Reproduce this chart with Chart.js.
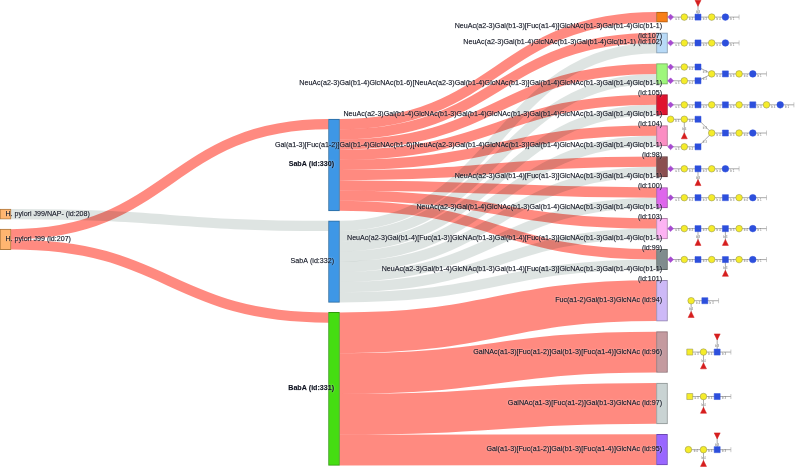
<!DOCTYPE html>
<html>
<head>
<meta charset="utf-8">
<style>html,body{margin:0;padding:0;background:#fff}canvas{display:block}</style>
<script src="https://cdn.jsdelivr.net/npm/chart.js@4/dist/chart.umd.min.js"></script>
</head>
<body>
<canvas id="c" width="796" height="467"></canvas>
<script>
// ---- data ----
const nodeNames = [
  "H. pylori J99/NAP- (id:208)",
  "H. pylori J99 (id:207)",
  "SabA (id:330)",
  "SabA (id:332)",
  "BabA (id:331)",
  "NeuAc(a2-3)Gal(b1-3)[Fuc(a1-4)]GlcNAc(b1-3)Gal(b1-4)Glc(b1-1)\n(id:107)",
  "NeuAc(a2-3)Gal(b1-4)GlcNAc(b1-3)Gal(b1-4)Glc(b1-1) (id:102)",
  "NeuAc(a2-3)Gal(b1-4)GlcNAc(b1-6)[NeuAc(a2-3)Gal(b1-4)GlcNAc(b1-3)]Gal(b1-4)GlcNAc(b1-3)Gal(b1-4)Glc(b1-1)\n(id:105)",
  "NeuAc(a2-3)Gal(b1-4)GlcNAc(b1-3)Gal(b1-4)GlcNAc(b1-3)Gal(b1-4)GlcNAc(b1-3)Gal(b1-4)Glc(b1-1)\n(id:104)",
  "Gal(a1-3)[Fuc(a1-2)]Gal(b1-4)GlcNAc(b1-6)[NeuAc(a2-3)Gal(b1-4)GlcNAc(b1-3)]Gal(b1-4)GlcNAc(b1-3)Gal(b1-4)Glc(b1-1)\n(id:98)",
  "NeuAc(a2-3)Gal(b1-4)[Fuc(a1-3)]GlcNAc(b1-3)Gal(b1-4)Glc(b1-1)\n(id:100)",
  "NeuAc(a2-3)Gal(b1-4)GlcNAc(b1-3)Gal(b1-4)GlcNAc(b1-3)Gal(b1-4)Glc(b1-1)\n(id:103)",
  "NeuAc(a2-3)Gal(b1-4)[Fuc(a1-3)]GlcNAc(b1-3)Gal(b1-4)[Fuc(a1-3)]GlcNAc(b1-3)Gal(b1-4)Glc(b1-1)\n(id:99)",
  "NeuAc(a2-3)Gal(b1-4)GlcNAc(b1-3)Gal(b1-4)[Fuc(a1-3)]GlcNAc(b1-3)Gal(b1-4)Glc(b1-1)\n(id:101)",
  "Fuc(a1-2)Gal(b1-3)GlcNAc (id:94)",
  "GalNAc(a1-3)[Fuc(a1-2)]Gal(b1-3)[Fuc(a1-4)]GlcNAc (id:96)",
  "GalNAc(a1-3)[Fuc(a1-2)]Gal(b1-3)GlcNAc (id:97)",
  "Gal(a1-3)[Fuc(a1-2)]Gal(b1-3)[Fuc(a1-4)]GlcNAc (id:95)"
];
const nodeColumns = [0,0,1,1,1,2,2,2,2,2,2,2,2,2,2,2,2,2];
const boldNodes = [2,4];
const nodeColors = ["#FFB570","#FFB570","#3E97E6","#3E97E6","#45DD12","#F77F17","#B8DAF7","#9EF77B","#E0132F","#FB8EC3","#8B4F50","#DE66EC","#FDB3F3","#7F8C8D","#CDB9F7","#C49A9F","#C9D3D3","#9966FF"];
const nodeBorders = ["#B07A40","#B07A40","#2A6A9F","#2A6A9F","#2F9A0C","#AD5910","#8098AD","#6EAD56","#9C0D20","#B06389","#613738","#9B47A5","#B17DAA","#59625F","#8F81AD","#89696F","#8D9494","#6B47B3"];
const linkSource = [1,1,0, 2,2,2,2,2,2,2,2,2, 3,3,3,3,3,3,3,3, 4,4,4,4];
const linkTarget = [2,4,3, 5,6,7,8,9,10,11,12,13, 6,7,8,9,10,11,12,13, 14,15,16,17];
const linkValue  = [1,1,1, 1,1,1,1,1,1,1,1,1, 1,1,1,1,1,1,1,1, 4,4,4,3];
const linkFamily = [0,0,1, 0,0,0,0,0,0,0,0,0, 1,1,1,1,1,1,1,1, 0,0,0,0];
// glycan residue chains per node (type+column:row)
const glycans = {
  5:["S0 Y1 B2 Y3 C4 T5","B2 F2:-1"],
  6:["S0 Y1 B2 Y3 C4 T5"],
  7:["S0:-.5 Y1:-.5 B2:-.5 Y3 B4 Y5 C6 T7","S0:.5 Y1:.5 B2:.5 Y3"],
  8:["S0 Y1 B2 Y3 B4 Y5 B6 Y7 C8 T9"],
  9:["Y0:-1.2 Y1:-1.2 B2:-1.2 Y3:-.2 B4:-.2 Y5:-.2 C6:-.2 T7:-.2","S0:.8 Y1:.8 B2:.8 Y3:-.2","Y1:-1.2 F1:0"],
  10:["S0:.15 Y1:.15 B2:.15 Y3:.15 C4:.15 T5:.15","B2:.15 F2:1.15"],
  11:["S0 Y1 B2 Y3 B4 Y5 C6 T7"],
  12:["S0 Y1 B2 Y3 B4 Y5 C6 T7","B2 F2:1","B4 F4:1"],
  13:["S0 Y1 B2 Y3 B4 Y5 C6 T7","B4 F4:1"],
  14:["Y1.5 B2.5 T3.5","Y1.5 F1.5:1"],
  15:["Q1.4 Y2.4 B3.4 T4.4","Y2.4 F2.4:1","B3.4 F3.4:-1.1"],
  16:["Q1.4:-.5 Y2.4:-.5 B3.4:-.5 T4.4:-.5","Y2.4:-.5 F2.4:.5"],
  17:["Y1.3 Y2.4 B3.4 T4.4","Y2.4 F2.4:1","B3.4 F3.4:-1"]
};

// ---- layout settings (in scale units) ----
const columnX = [5.5, 334, 662];
const columnStart = [20.49, 11.67, 1.176];
const columnGap = [0.98, 0.98, 1.034];
const nodeWidth = 11;
const unitsHigh = 467/10.2;
const glycanX0 = 670.6, glycanStep = 13.7, glycanRow = 1.35;
const familyColors = ["#FF8A80","#DEE4E2"];
const linkageByType = {S:"a 3",Y:"b 4",B:"b 3",Q:"a 3",C:"b 1"};

// ---- derived sankey layout ----
const inSum = nodeNames.map((_,i)=>linkTarget.reduce((s,t,k)=>s+(t===i?linkValue[k]:0),0));
const outSum = nodeNames.map((_,i)=>linkSource.reduce((s,t,k)=>s+(t===i?linkValue[k]:0),0));
const nodeSize = nodeNames.map((_,i)=>Math.max(inSum[i],outSum[i]));
const nodeTop = [];
columnX.forEach((_,c)=>{
  let y = columnStart[c];
  nodeNames.forEach((_,i)=>{ if(nodeColumns[i]===c){ nodeTop[i]=y; y+=nodeSize[i]+columnGap[c]; } });
});
const outCursor = nodeTop.slice(), inCursor = nodeTop.slice();
const links = linkSource.map((s,k)=>{
  const t = linkTarget[k], v = linkValue[k];
  const l = {s,t,v,fam:linkFamily[k],y0:outCursor[s]+v/2,y1:inCursor[t]+v/2};
  outCursor[s]+=v; inCursor[t]+=v;
  return l;
});

const FONT = '7.1px "Liberation Sans", Helvetica, Arial, sans-serif';

const linksPlugin = {
  id:'sankeyLinks',
  beforeDatasetsDraw(chart){
    const {ctx,scales:{x,y}} = chart;
    ctx.save();
    ctx.fillStyle='#fff'; ctx.fillRect(0,0,chart.width,chart.height);
    ctx.globalCompositeOperation='multiply';
    links.forEach(l=>{
      const x0 = x.getPixelForValue(columnX[nodeColumns[l.s]]+nodeWidth/2);
      const x1 = x.getPixelForValue(columnX[nodeColumns[l.t]]-nodeWidth/2);
      const y0 = y.getPixelForValue(l.y0), y1 = y.getPixelForValue(l.y1);
      const xm = (x0+x1)/2;
      ctx.beginPath();
      ctx.moveTo(x0,y0);
      ctx.bezierCurveTo(xm,y0,xm,y1,x1,y1);
      ctx.lineWidth = y.getPixelForValue(l.v)-y.getPixelForValue(0);
      ctx.strokeStyle = familyColors[l.fam];
      ctx.stroke();
    });
    ctx.restore();
  }
};

function parseTok(tok){
  const m = tok.match(/^([A-Z])([\d.]+)(?::(-?[\d.]+))?$/);
  return {type:m[1],col:+m[2],row:m[3]?+m[3]:0};
}

const labelsPlugin = {
  id:'sankeyLabels',
  afterDatasetsDraw(chart){
    const {ctx,scales:{x,y}} = chart;
    ctx.save();
    // glycan cartoons
    Object.keys(glycans).forEach(key=>{
      const i=+key, mid=nodeTop[i]+nodeSize[i]/2;
      const px=t=>x.getPixelForValue(glycanX0+t.col*glycanStep);
      const py=t=>y.getPixelForValue(mid+t.row*glycanRow);
      const chains=glycans[i].map(c=>c.split(' ').map(parseTok));
      ctx.strokeStyle='#ABABAB'; ctx.lineWidth=1;
      chains.forEach(ch=>{
        ctx.beginPath();
        ch.forEach((t,k)=>{ if(k) ctx.lineTo(px(t),py(t)); else ctx.moveTo(px(t),py(t)); });
        ctx.stroke();
      });
      ctx.fillStyle='#777'; ctx.font='3px "Liberation Sans"'; ctx.textAlign='center'; ctx.textBaseline='middle';
      chains.forEach(ch=>ch.forEach((t,k)=>{
        const n=ch[k+1];
        if(n && linkageByType[t.type] && t.type!=='F') ctx.fillText(linkageByType[t.type],(px(t)+px(n))/2,(py(t)+py(n))/2+2);
      }));
      const seen={};
      chains.forEach(ch=>ch.forEach(t=>{
        const k=t.type+t.col+':'+t.row; if(seen[k])return; seen[k]=1;
        const X=px(t),Y=py(t);
        ctx.lineWidth=.5;
        if(t.type==='T'){ ctx.beginPath();ctx.strokeStyle='#999';ctx.moveTo(X,Y-2.5);ctx.lineTo(X,Y+2.5);ctx.stroke();return; }
        ctx.beginPath();
        if(t.type==='S'){ ctx.moveTo(X,Y-2.9);ctx.lineTo(X+2.9,Y);ctx.lineTo(X,Y+2.9);ctx.lineTo(X-2.9,Y);ctx.closePath();ctx.fillStyle='#A64AD0';ctx.strokeStyle='#A64AD0'; }
        else if(t.type==='Y'){ ctx.arc(X,Y,3.3,0,7);ctx.fillStyle='#F5EC2A';ctx.strokeStyle='#8A8A50'; }
        else if(t.type==='C'){ ctx.arc(X,Y,3.3,0,7);ctx.fillStyle='#2D4FDC';ctx.strokeStyle='#2D4FDC'; }
        else if(t.type==='B'){ ctx.rect(X-3,Y-3,6,6);ctx.fillStyle='#2D4FDC';ctx.strokeStyle='#2D4FDC'; }
        else if(t.type==='Q'){ ctx.rect(X-3,Y-3,6,6);ctx.fillStyle='#F5EC2A';ctx.strokeStyle='#8A8A50'; }
        else if(t.type==='F'){ const d=t.row<0?1:-1; ctx.moveTo(X,Y+3*d);ctx.lineTo(X+3,Y-3*d);ctx.lineTo(X-3,Y-3*d);ctx.closePath();ctx.fillStyle='#D61E1E';ctx.strokeStyle='#D61E1E'; }
        ctx.fill();ctx.stroke();
      }));
    });
    // node labels
    ctx.textBaseline='middle';
    nodeNames.forEach((name,i)=>{
      const c=nodeColumns[i], lines=name.split('\n');
      const X=x.getPixelForValue(columnX[c]);
      const mid=y.getPixelForValue(nodeTop[i]+nodeSize[i]/2);
      ctx.font=(boldNodes.includes(i)?'bold ':'')+FONT;
      ctx.textAlign=c===0?'left':'right';
      ctx.fillStyle='#0E1220';
      ctx.strokeStyle='rgba(14,18,32,.45)';
      ctx.lineWidth=.25;
      lines.forEach((ln,k)=>{
        const Y=lines.length>1? mid+9+k*10 : mid-0.5;
        ctx.shadowColor='rgba(255,255,255,.8)'; ctx.shadowBlur=2;
        ctx.fillText(ln,X,Y);
        ctx.shadowBlur=0;
        ctx.strokeText(ln,X,Y);
      });
    });
    ctx.restore();
  }
};

new Chart(document.getElementById('c'),{
  type:'bar',
  data:{datasets:[{
    label:'nodes',
    data:nodeNames.map((_,i)=>({x:columnX[nodeColumns[i]],y:[nodeTop[i],nodeTop[i]+nodeSize[i]]})),
    backgroundColor:nodeColors,
    borderColor:nodeBorders,
    borderWidth:1,
    borderSkipped:false,
    barThickness:nodeWidth
  }]},
  options:{
    responsive:false,
    animation:false,
    layout:{padding:0},
    plugins:{legend:{display:false},tooltip:{enabled:false}},
    scales:{
      x:{type:'linear',min:0,max:796,display:false,offset:false},
      y:{type:'linear',min:0,max:unitsHigh,reverse:true,display:false}
    }
  },
  plugins:[linksPlugin,labelsPlugin]
});
</script>
</body>
</html>
